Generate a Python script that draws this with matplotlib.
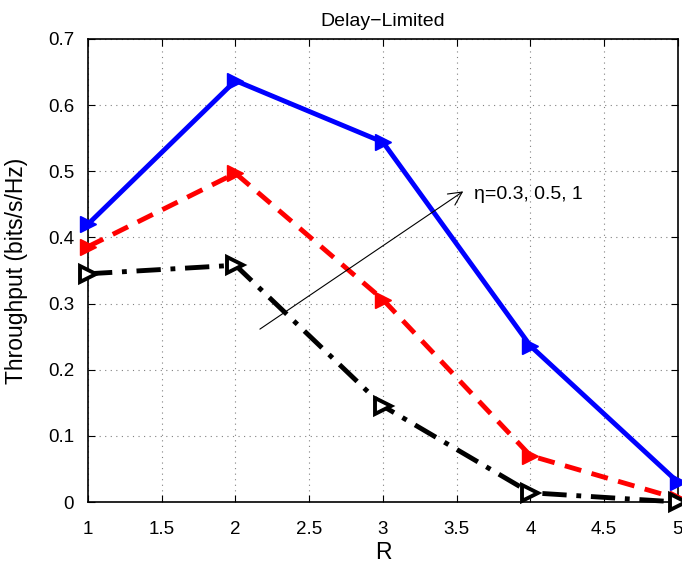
import matplotlib
matplotlib.use("Agg")
import matplotlib.pyplot as plt

plt.rcParams['font.family'] = ['Liberation Sans', 'DejaVu Sans']

R = [1, 2, 3, 4, 5]
thr_eta1 = [0.42, 0.637, 0.544, 0.236, 0.03]
thr_eta05 = [0.386, 0.497, 0.306, 0.07, 0.005]
thr_eta03 = [0.345, 0.358, 0.145, 0.014, 0.0]

fig = plt.figure(figsize=(6.82, 5.65), dpi=100)
ax = fig.add_axes([0.129, 0.1115, 0.865, 0.8195])

ax.plot(R, thr_eta1, '-', color='blue', lw=3.5, marker='>', ms=12,
        mfc='blue', mec='blue', clip_on=False, zorder=3)
ax.plot(R, thr_eta05, '--', color='red', lw=3.5, marker='>', ms=12,
        mfc='red', mec='red', clip_on=False, zorder=3, dashes=(3.5, 2.2))
ax.plot(R, thr_eta03, '-.', color='black', lw=3.5, marker='>', ms=12,
        mfc='white', mec='black', mew=2.8, clip_on=False, zorder=3,
        dashes=(5, 2, 1, 2))

ax.annotate('', xy=(3.56, 0.472), xytext=(2.15, 0.259),
            arrowprops=dict(arrowstyle='->', color='black', lw=0.8,
                            mutation_scale=24))
ax.text(3.62, 0.465, 'η=0.3, 0.5, 1', fontsize=14, va='center', ha='left')

ax.set_xlim(1, 5)
ax.set_ylim(0, 0.7)
ax.set_xticks([1, 1.5, 2, 2.5, 3, 3.5, 4, 4.5, 5])
ax.set_xticklabels(['1', '1.5', '2', '2.5', '3', '3.5', '4', '4.5', '5'])
ax.set_yticks([0, 0.1, 0.2, 0.3, 0.4, 0.5, 0.6, 0.7])
ax.set_yticklabels(['0', '0.1', '0.2', '0.3', '0.4', '0.5', '0.6', '0.7'])
ax.grid(True, linestyle=(0, (1, 4)), color='gray', lw=0.8)
ax.tick_params(direction='in', top=True, right=True, labelsize=13.5, length=5)
ax.tick_params(axis='x', pad=14)
ax.tick_params(axis='y', pad=10)
for s in ax.spines.values():
    s.set_linewidth(1.2)

ax.set_xlabel('R', fontsize=16.5, labelpad=2)
ax.set_ylabel('Throughput (bits/s/Hz)', fontsize=16.5, labelpad=14)
ax.set_title('Delay\u2212Limited', fontsize=14, pad=9)

fig.savefig('out.png', dpi=100)
